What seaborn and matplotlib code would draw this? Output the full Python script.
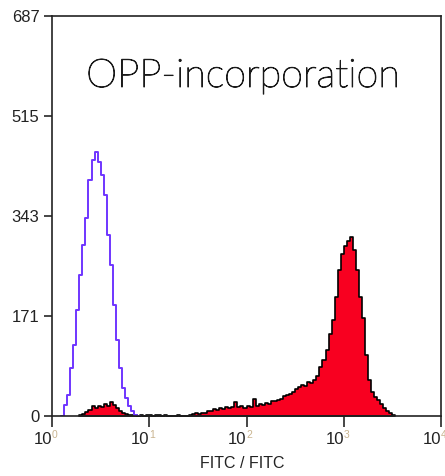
import numpy as np
import pandas as pd
import matplotlib.pyplot as plt
import matplotlib.patheffects as pe
import seaborn as sns

# flow histogram, x in log10(FITC) with 32 channels per decade
channels_per_decade = 32

# unlabelled control (blue outline): first channel + counts per channel
control_start = 3
control_counts = [0, 19, 36, 82, 122, 182, 242, 294, 340, 405, 440, 453, 436,
                  414, 380, 311, 259, 191, 131, 82, 48, 31, 17, 9, 2, 0]

# OPP labelled sample (red filled): first channel + counts per channel
opp_start = 9
opp_counts = [2, 4, 7, 11, 17, 14, 18, 16, 21, 18, 24, 19, 13, 9, 5, 3,
              2, 2, 1, 0, 2, 0, 2, 1, 0, 2, 1, 0, 2, 0, 0, 0, 2, 0, 0, 0, 1,
              3, 5, 4, 6, 5, 8, 9, 12, 11, 14, 12, 15, 13, 16, 24, 15, 17, 14, 18, 16,
              29, 18, 20, 19, 22, 21, 26, 25, 28, 30, 34, 36, 38, 42, 46, 49, 54, 52, 58, 56,
              62, 68, 84, 96, 113, 140, 165, 205, 250, 278, 292, 300, 308, 285, 250, 204, 168,
              105, 62, 42, 33, 27, 21, 14, 9, 5, 2]

y_ticks = [0, 171, 343, 515, 687]
decades = [0, 1, 2, 3, 4]
title = "OPP-incorporation"
x_label = "FITC / FITC"


def channel_table(start, counts):
    n = len(counts)
    df = pd.DataFrame({"fitc": (start + np.arange(n) + 0.5) / channels_per_decade,
                       "count": counts})
    edges = ((start + np.arange(n + 1)) / channels_per_decade).tolist()
    return df, edges


sns.set_style("ticks")
plt.rcParams["font.family"] = ["Liberation Sans", "DejaVu Sans"]

fig = plt.figure(figsize=(4.45, 4.76), dpi=100)
ax = fig.add_axes([52 / 445, 60 / 476, 389 / 445, 400 / 476])

df, edges = channel_table(opp_start, opp_counts)
sns.histplot(data=df, x="fitc", weights="count", bins=edges, element="step",
             fill=True, color="#f80020", edgecolor="black", linewidth=1.2,
             alpha=1, ax=ax)

df, edges = channel_table(control_start, control_counts)
sns.histplot(data=df, x="fitc", weights="count", bins=edges, element="step",
             fill=False, color="#6f35ff", linewidth=1.4, ax=ax)

ax.set_xlim(0, 4)
ax.set_ylim(0, 687)
ax.set_yticks(y_ticks)
ax.set_yticklabels([str(v) for v in y_ticks], fontsize=12, color="#222222")
ax.set_xticks(decades)
ax.set_xticklabels([""] * len(decades))
ax.set_xlabel("")
ax.set_ylabel("")
ax.tick_params(axis="y", length=6, width=1.2, pad=3)
ax.tick_params(axis="x", length=8, width=1.2)
for side in ["left", "right", "top", "bottom"]:
    ax.spines[side].set_visible(True)
    ax.spines[side].set_linewidth(1.2)
    ax.spines[side].set_color("#222222")
    ax.spines[side].set_zorder(5)

# decade labels: "10" left of the tick, pale exponent right of it
for d in decades:
    ax.annotate("10", xy=(d, 0), xycoords=("data", "axes fraction"),
                xytext=(0, -11.5), textcoords="offset points",
                ha="right", va="top", fontsize=12, color="#222222")
    ax.annotate(str(d), xy=(d, 0), xycoords=("data", "axes fraction"),
                xytext=(0, -10), textcoords="offset points",
                ha="left", va="top", fontsize=7.5, color="#c9b48f")

ax.text(0.488, -0.12, x_label, transform=ax.transAxes, ha="center",
        va="center", fontsize=11.5, color="#222222")
ax.text(0.491, 0.8225, title, transform=ax.transAxes, ha="center",
        va="baseline", fontsize=28.5, fontweight="light",
        family=["Lato", "DejaVu Sans"], color="#1a1a1a",
        path_effects=[pe.withStroke(linewidth=0.7, foreground="#1a1a1a")])

fig.savefig("out.png", dpi=100)
